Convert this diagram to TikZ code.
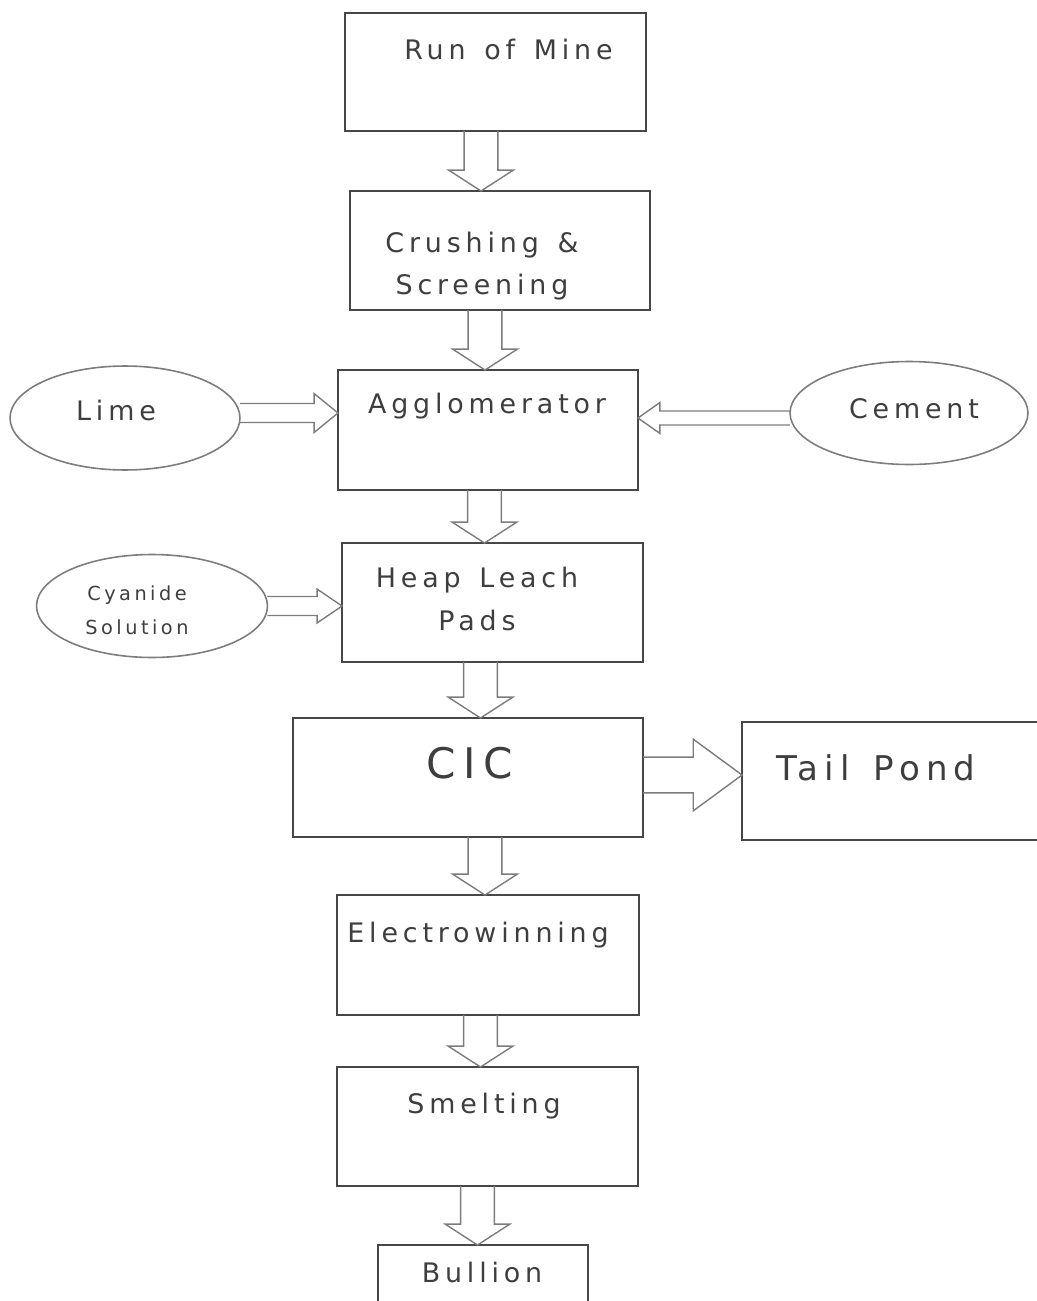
\documentclass[tikz,border=0pt]{standalone}
\usepackage{fontspec}
\setmainfont{DejaVu Sans}[LetterSpace=18,WordSpace=1.4]
\usetikzlibrary{shapes.geometric,calc}
\definecolor{boxline}{HTML}{474747}
\definecolor{arrline}{HTML}{7C7C7C}
\definecolor{txtgray}{HTML}{3E3E3E}
\tikzset{
  box/.style={draw=boxline, line width=1.1pt, rectangle, minimum width=6cm, minimum height=2.38cm, inner sep=0pt, outer sep=0pt},
  oval/.style={draw=arrline, line width=0.9pt, ellipse, inner sep=0pt, outer sep=0pt},
  boxtext/.style={anchor=base, text=txtgray, align=center, inner sep=0pt, font=\fontsize{15.3pt}{23.8pt}\selectfont},
  vblock/.style={draw=arrline, line width=0.8pt, to path={let \p1=(\tikztostart), \p2=(\tikztotarget) in
    (\x1-17*0.5669,\y1) -- (\x1-17*0.5669,\y2+21*0.5669) -- (\x1-32.5*0.5669,\y2+21*0.5669) -- (\x1,\y2)
    -- (\x1+32.5*0.5669,\y2+21*0.5669) -- (\x1+17*0.5669,\y2+21*0.5669) -- (\x1+17*0.5669,\y1)}},
  hblock/.style n args={3}{draw=arrline, line width=0.8pt, to path={let \p1=(\tikztostart), \p2=(\tikztotarget), \n1={sign(\x2-\x1)*#3*0.5669} in
    (\x1,\y2+#1*0.5669) -- (\x2-\n1,\y2+#1*0.5669) -- (\x2-\n1,\y2+#2*0.5669) -- (\x2,\y2)
    -- (\x2-\n1,\y2-#2*0.5669) -- (\x2-\n1,\y2-#1*0.5669) -- (\x1,\y2-#1*0.5669)}}
}
\begin{document}
\begin{tikzpicture}[x=0.02cm,y=-0.02cm]
\path[use as bounding box] (0,0) rectangle (1037,1301);
\clip (0,0) rectangle (1037,1301);
\node[box, minimum width=6.02cm, minimum height=2.36cm] (rom) at (495.5,72){};
\node[boxtext] (romtxt) at (508.5,60){Run of Mine};
\node[box] (crush) at (500,250.5){};
\node[boxtext] (crushtxt) at (482,294){Crushing \&\\Screening};
\node[box, minimum height=2.4cm] (agg) at (488,430){};
\node[boxtext] (aggtxt) at (487,413){Agglomerator};
\node[box, minimum width=6.02cm] (heap) at (492.5,602.5){};
\node[boxtext, font=\fontsize{15.3pt}{24.4pt}\selectfont] (heaptxt) at (477,630){Heap Leach\\Pads};
\node[box, minimum width=7cm] (cic) at (468,777.5){};
\node[boxtext, font=\fontsize{24pt}{28pt}\selectfont] (cictxt) at (470,778){CIC};
\node[box, minimum width=6.6cm, minimum height=2.36cm] (tail) at (907,781){};
\node[boxtext, font=\fontsize{19.4pt}{23pt}\selectfont] (tailtxt) at (876,780){Tail Pond};
\node[box, minimum width=6.04cm, minimum height=2.4cm] (elec) at (488,955){};
\node[boxtext] (electxt) at (478,942){Electrowinning};
\node[box, minimum width=6.02cm] (smelt) at (487.5,1126.5){};
\node[boxtext] (smelttxt) at (484,1113){Smelting};
\node[box, minimum width=4.2cm, minimum height=2.32cm] (bull) at (483,1303){};
\node[boxtext] (bulltxt) at (482,1282){Bullion};
\node[oval, minimum width=4.6cm, minimum height=2.08cm] (lime) at (125,418){};
\node[boxtext] (limetxt) at (116,420){Lime};
\node[oval, minimum width=4.76cm, minimum height=2.06cm] (cement) at (909,413){};
\node[boxtext] (cementtxt) at (914,418){Cement};
\node[oval, minimum width=4.62cm, minimum height=2.06cm] (cyan) at (152,606){};
\node[boxtext, font=\fontsize{11pt}{19.3pt}\selectfont] (cyantxt) at (137,634){Cyanide\\Solution};
\draw[vblock] (rom.south -| 481,0) to (crush.north -| 481,0);
\draw[vblock] (crush.south -| 485,0) to (agg.north -| 485,0);
\draw[vblock] (agg.south -| 484.5,0) to (heap.north -| 484.5,0);
\draw[vblock] (heap.south -| 480.5,0) to (cic.north -| 480.5,0);
\draw[vblock] (cic.south -| 485,0) to (elec.north -| 485,0);
\draw[vblock] (elec.south -| 480.5,0) to (smelt.north -| 480.5,0);
\draw[vblock] (smelt.south -| 477.5,0) to (bull.north -| 477.5,0);
\draw[hblock={9.5}{19.5}{24}] (lime.east) to (agg.west |- 0,413);
\draw[hblock={7}{15.5}{22}] (cement.west) to (agg.east |- 0,418);
\draw[hblock={9.5}{17}{25}] (cyan.east) to (heap.west |- 0,606);
\draw[hblock={18}{36}{49}] (cic.east |- 0,775) to (tail.west |- 0,775);
\end{tikzpicture}
\end{document}
